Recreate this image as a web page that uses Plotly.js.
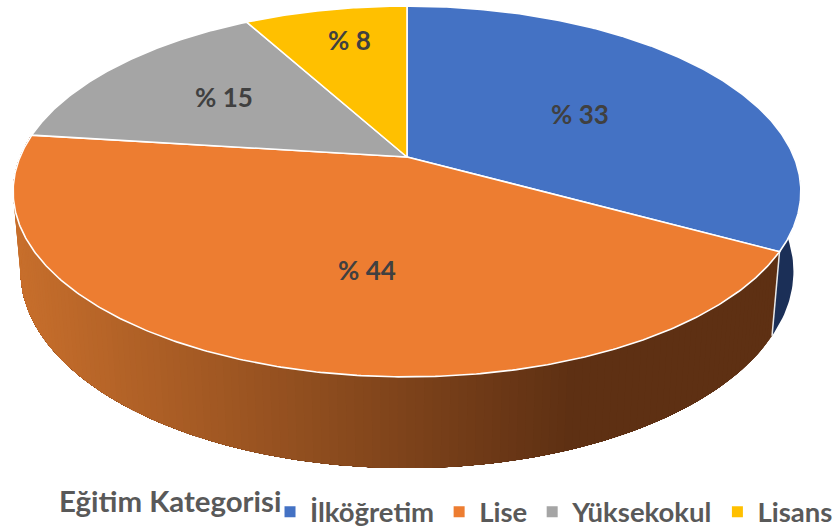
<!DOCTYPE html>
<html>
<head>
<meta charset="utf-8">
<script src="https://cdn.plot.ly/plotly-3.0.1.min.js"></script>
<style>html,body{margin:0;padding:0;background:#fff}#chart{width:837px;height:531px}</style>
</head>
<body>
<div id="chart"></div>
<script>
const categories = ["İlköğretim", "Lise", "Yüksekokul", "Lisans"];
const shares = [33, 44, 15, 8];
const labels = ["% 33", "% 44", "% 15", "% 8"];
const colors = ["#4472C4", "#ED7D31", "#A5A5A5", "#FFC000"];
const sideColors = ["#1B2F57", null, null, null];
const legendTitle = "Eğitim Kategorisi";

// perspective camera fitted to the picture
const cam = {cx: 407, cy: 157, rx: 387, ry: 179, k: 0.186, drop: 80, shrink: 0.0186};
function project(deg, r, lower) {
  const t = deg * Math.PI / 180, x = r * Math.sin(t), y = r * Math.cos(t);
  const w = 1 + cam.k * y + (lower ? cam.shrink : 0);
  return [cam.cx + cam.rx * x / w, cam.cy - (cam.ry * y - (lower ? cam.drop : 0)) / w];
}
const total = shares.reduce((a, b) => a + b, 0);
const bounds = [0];
shares.forEach(v => bounds.push(bounds[bounds.length - 1] + v / total * 360));

const traces = [];
const polygon = (pts, fill, line, lineW) => ({
  type: "scatter", mode: "lines", x: pts.map(p => p[0]), y: pts.map(p => p[1]),
  fill: "toself", fillcolor: fill, line: {color: line, width: lineW},
  hoverinfo: "skip", showlegend: false
});
function wall(a, b, n) {
  const pts = [];
  for (let i = 0; i <= n; i++) pts.push(project(a + (b - a) * i / n, 1, false));
  for (let i = n; i >= 0; i--) pts.push(project(a + (b - a) * i / n, 1, true));
  pts.push(pts[0]);
  return pts;
}

// blue side wall
traces.push(polygon(wall(78, bounds[1], 40), sideColors[0], sideColors[0], 0));

// orange side wall: layered from the far right so the shading has no seams
{
  const c0 = [200, 111, 44], c1 = [94, 48, 19], x0 = 14, x1 = 570;
  const a = bounds[1], b = bounds[2], n = 150;
  for (let i = 0; i < n; i++) {
    const d = a + (b - a) * i / n;
    const dn = a + (b - a) * (i + 1) / n;
    const mid = (project(d, 1, false)[0] + project(dn, 1, false)[0] + project(d, 1, true)[0] + project(dn, 1, true)[0]) / 4;
    const t = Math.max(0, Math.min(1, (mid - x0) / (x1 - x0)));
    const col = "rgb(" + c0.map((v, j) => Math.round(v + (c1[j] - v) * t)).join(",") + ")";
    // strips run from d to the left end of the wall; each one repaints what remains
    traces.push(polygon(wall(d, b, Math.max(2, Math.ceil(b - d))), col, col, 0));
  }
  const s0 = project(bounds[1], 1, false), s1 = project(bounds[1], 1, true);
  traces.push({type: "scatter", mode: "lines", x: [s0[0], s1[0]], y: [s0[1], s1[1]],
    line: {color: "#e8e8e8", width: 1.5}, hoverinfo: "skip", showlegend: false});
}
// top faces
shares.forEach((v, i) => {
  const pts = [[cam.cx, cam.cy]], a = bounds[i], b = bounds[i + 1], n = Math.ceil(b - a) * 2;
  for (let j = 0; j <= n; j++) pts.push(project(a + (b - a) * j / n, 1, false));
  pts.push([cam.cx, cam.cy]);
  traces.push(polygon(pts, colors[i], "#ffffff", 1.6));
});
// legend entries
categories.forEach((c, i) => traces.push({
  type: "scatter", mode: "markers", x: [null], y: [null], name: c,
  marker: {symbol: "square", size: 11, color: colors[i]}, hoverinfo: "skip"
}));

const labelPlaces = [[580, 114], [367, 270], [224, 97], [349, 40]];
const annotations = labels.map((t, i) => ({
  x: labelPlaces[i][0], y: labelPlaces[i][1], xref: "x", yref: "y", text: t, showarrow: false,
  font: {family: "Lato, sans-serif", size: 26, weight: 700, color: "#404040"}
}));
annotations.push({
  x: 57, y: 500, xref: "x", yref: "y", xanchor: "left", text: legendTitle, showarrow: false,
  font: {family: "Lato, sans-serif", size: 29.4, weight: 700, color: "#595959"}
});

Plotly.newPlot("chart", traces, {
  width: 837, height: 531, margin: {l: 0, r: 0, t: 0, b: 0, autoexpand: false},
  paper_bgcolor: "#fff", plot_bgcolor: "#fff",
  xaxis: {range: [0, 837], visible: false, fixedrange: true},
  yaxis: {range: [531, 0], visible: false, fixedrange: true},
  showlegend: true,
  legend: {orientation: "h", x: 0.3226, xanchor: "left", y: 0.036, yanchor: "middle",
    font: {family: "Lato, sans-serif", size: 27.5, weight: 700, color: "#595959"},
    bgcolor: "rgba(0,0,0,0)", itemwidth: 30},
  annotations: annotations
}, {displayModeBar: false, staticPlot: true});
</script>
</body>
</html>
